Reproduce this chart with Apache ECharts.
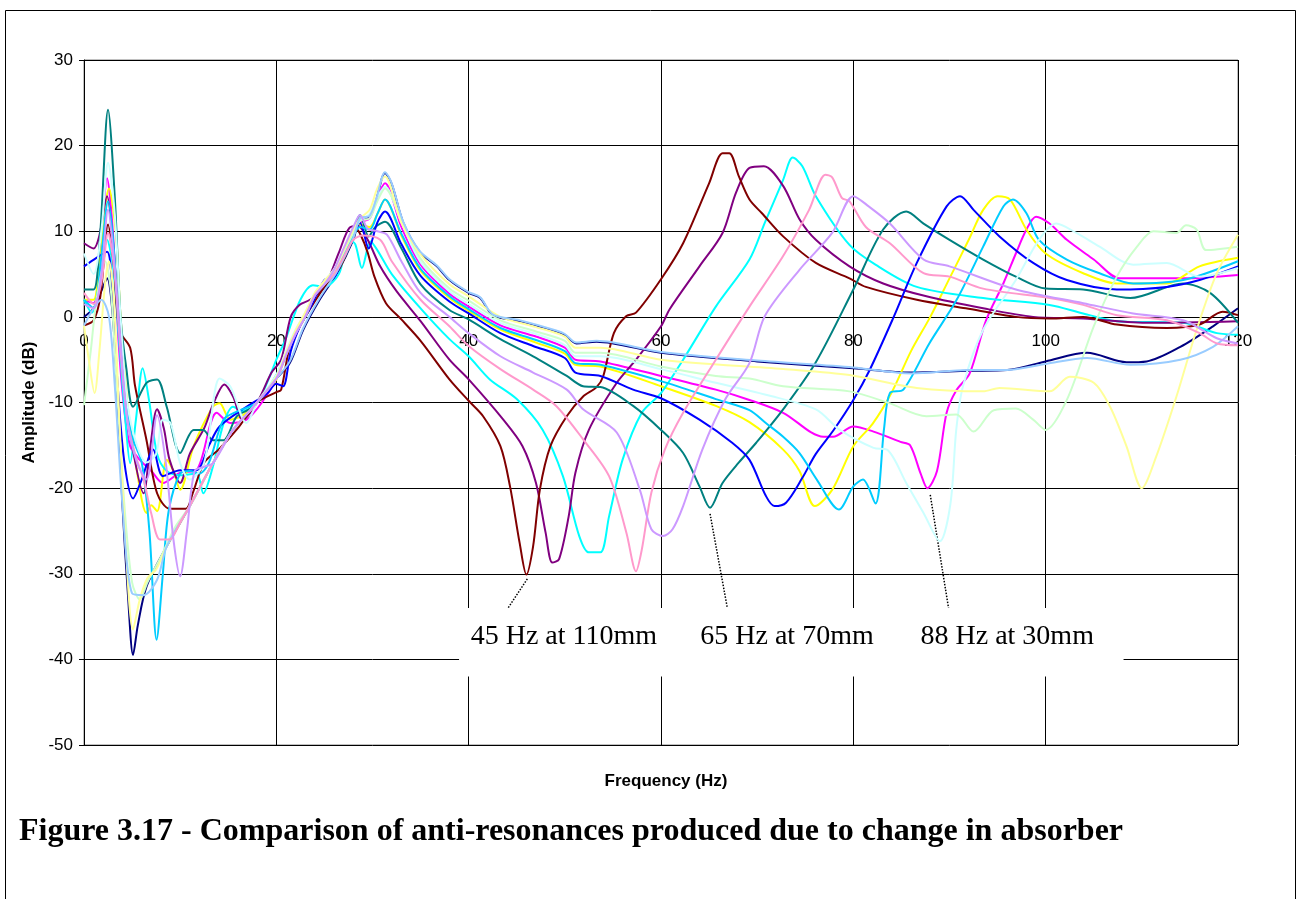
<!DOCTYPE html>
<html>
<head>
<meta charset="utf-8">
<title>Figure 3.17</title>
<script src="https://cdn.jsdelivr.net/npm/echarts/dist/echarts.min.js"></script>
<style>
  html, body { margin: 0; padding: 0; background: #fff; }
  #chart { width: 1296px; height: 899px; }
</style>
</head>
<body>
<div id="chart"></div>
<script>
// frequency (Hz) / amplitude (dB) pairs, one array per absorber position
var navy = [[0,0],[1,1],[1.8,3],[2.4,4.5],[3,0],[3.5,-10],[4,-22],[4.6,-33],[5.1,-39.5],[5.6,-36],[6.5,-31.5],[8.6,-26.8],[11,-22.1],[13.4,-17.1],[15.5,-13.2],[17.6,-10.5],[20,-7.2],[21.4,-5.4],[22.8,-1.5],[24.5,2],[26.3,5.1],[28,9],[28.7,11.5],[29.7,11.7],[30.4,13.7],[31.3,16.8],[32,15.5],[33.2,11],[34.9,7.6],[36.7,5.9],[38,4.3],[40,2.8],[41.2,2.2],[42.5,0.2],[45.3,-0.5],[49.1,-1.7],[50,-2.1],[51.2,-3.1],[53.3,-2.9],[60,-4.2],[70,-5.2],[80,-6],[86,-6.5],[92,-6.3],[96,-6.2],[100,-5.2],[104.3,-4.2],[108.4,-5.3],[110.5,-5.2],[114,-3.5],[117.4,-1.1],[120,1.0]];
var magenta = [[0,2],[1,1.6],[1.7,7],[2.4,16.2],[3,10],[3.6,-3],[4.2,-11],[4.8,-15.1],[5.8,-16.7],[7,-18],[8.2,-19.4],[10,-18.2],[11.7,-17.9],[13.8,-11.2],[15.2,-12.4],[16.9,-12],[18.5,-10],[20,-7.2],[21,-4.3],[22,-1.8],[23,0.2],[24,2.6],[25,4],[26,5.3],[27,7.5],[28,9.8],[28.7,11],[29.7,11.5],[30.5,14],[31.3,15.6],[33,10.5],[35,6.1],[38,2.7],[40,1.2],[43.3,-1],[47,-2.3],[50,-3.6],[51.1,-5],[53.7,-5.2],[60,-6.9],[65.7,-8.5],[69.2,-9.7],[72.7,-11.2],[76.9,-14],[77.9,-14],[80,-12.8],[82.1,-13.4],[84.9,-14.6],[85.9,-15],[87,-18.3],[87.7,-20],[88.7,-18],[89.7,-11.2],[90.7,-8.6],[92.1,-6.6],[93.8,-0.4],[95.6,3.9],[96.9,7.4],[98,10.2],[99,11.7],[100.4,10.9],[102.2,9],[105,6.7],[107.7,4.5],[110.8,4.5],[114.3,4.5],[120,4.9]];
var yellow = [[0,2],[1,2],[1.7,8],[2.6,15],[3.3,10],[3.8,0],[4.5,-10],[5.5,-18],[6.5,-22.9],[7,-22],[7.6,-22.7],[8.6,-16.7],[9.3,-18],[10,-20.2],[11.4,-15.1],[13.4,-10.5],[14.1,-10.1],[15.2,-12],[16.5,-11.5],[18,-10],[20,-7.3],[21,-4.5],[22,-2],[23,0],[24,2.5],[25,3.8],[26,5],[27,7],[28,9.5],[28.7,10.8],[29.7,10.5],[30.5,12],[31.3,13.7],[33,9.5],[35,5.4],[38,2.2],[40,0.7],[43.3,-1.5],[47,-3],[50,-4.3],[51.1,-5.6],[53.7,-5.8],[60,-8.1],[65.7,-10.4],[69.2,-12.3],[72.7,-15.5],[74.4,-18],[76,-22.1],[77.8,-20.2],[80,-15.1],[82,-12.5],[84,-8.8],[86,-4],[88,0],[90,4.5],[92,9],[93.5,12.5],[95,14.1],[96.3,13.7],[98,10.2],[100,7.4],[103.9,5.1],[107.4,3.9],[112.6,3.9],[116,5.9],[120,6.9]];
var cyan = [[0,2],[0.8,0.5],[1.6,4],[2.4,9],[3,6],[3.6,-2],[4.3,-12],[4.8,-17.1],[5.4,-12],[6.1,-6],[6.8,-10],[7.6,-16],[8.6,-18],[10,-18.5],[11.7,-18.3],[12.4,-20.6],[13.4,-17.5],[14.5,-12.5],[15.5,-10.5],[16.5,-11],[18,-10],[19.3,-7],[20,-5],[21,-2.5],[22.5,2],[23.8,3.7],[25,3.5],[26.5,5],[27.6,9],[28.2,8.5],[28.9,5.7],[29.8,8.8],[30.5,7.8],[32,5],[35,1],[38,-2.6],[40,-4.6],[42.2,-7.3],[45,-9.6],[47.7,-13.2],[49.8,-18.6],[51.5,-25.6],[52.5,-27.5],[53.7,-27.5],[54.6,-23.3],[56,-16.7],[58,-11.2],[60,-8.9],[62.3,-5],[65.7,1.2],[69.2,6.7],[70.8,11],[72.7,16],[73.7,18.6],[74.7,17.6],[76.1,14.1],[79.6,8.4],[82.3,6.1],[86.6,3.5],[93.5,2.2],[100.4,1.4],[103.9,0.4],[107.4,-0.5],[114.3,-0.7],[117.8,-1.9],[120,-2.1]];
var purple = [[0,8.6],[1,8],[1.6,9.5],[2.4,14.1],[3,9],[3.6,0],[4.2,-8],[5,-15],[6.2,-20.6],[6.8,-16],[7.6,-10.8],[8.3,-13],[8.9,-16.7],[10,-19.4],[11,-16],[12.5,-13],[13.5,-10],[14.6,-7.9],[15.5,-9.3],[16.5,-12],[18,-10],[19.5,-6.5],[20.5,-5],[21.5,0],[22.4,1.4],[23.5,2],[25,3.5],[26.5,7.5],[27.6,10.4],[28.5,10.6],[29.5,9],[30.8,5.9],[32.5,3],[35,-0.5],[38,-5],[40,-7.3],[43.6,-12],[45.6,-15.1],[47,-19.4],[48,-25.2],[48.7,-28.7],[49.4,-28.3],[50.4,-23.3],[51.1,-18.2],[52.5,-13.2],[55.4,-7.7],[57.4,-5],[60,-1.1],[60.9,0.9],[64,5.9],[66.4,9.8],[67.8,14.5],[69.2,17.4],[70.7,17.6],[72.7,15.3],[74.4,11.4],[76.1,9.0],[79.6,5.9],[83.1,3.9],[87.6,2.4],[93.5,1.0],[98.7,0],[103.9,-0.2],[110.8,-0.7],[120,-0.5]];
var maroon = [[0,-1],[1,-0.4],[1.7,2.4],[2.5,10.8],[3.1,6],[3.7,-1.6],[4.8,-3.6],[5.3,-8],[6.5,-14.4],[7.6,-20.6],[8.9,-22.4],[10.6,-22.4],[11.3,-20.6],[12.5,-17],[14,-15.5],[16,-13],[18,-10],[20,-8.8],[20.5,-8.5],[21.5,-3],[23,0],[25,3.5],[26.5,5.5],[27.5,8],[28.3,10.3],[28.8,9.5],[29.5,7.5],[30.2,4.7],[31.4,1.6],[33,-0.3],[35,-2.8],[38,-7.3],[40,-9.8],[41.5,-11.6],[43.3,-15.1],[44.3,-19.8],[45.3,-26.4],[46,-30.1],[46.7,-26.8],[47.4,-20.2],[48.5,-15.1],[50.2,-11.6],[51.9,-9.3],[53.3,-8.2],[54,-6.9],[55.1,-1.9],[56.4,0.1],[57.4,0.5],[60,4.4],[62.3,8.6],[65,15.6],[66.4,19.1],[67.1,19.1],[68.1,16.4],[69.2,13.7],[70.5,12.1],[72.7,9.4],[76.1,6.3],[79.6,4.5],[81.3,3.5],[86.6,2.0],[91.7,1.0],[96.9,0],[100.4,-0.2],[103.9,0],[107.4,-0.9],[112.6,-1.3],[116,-0.9],[118.4,0.6],[120,0.2]];
var teal = [[0,3.2],[1,3.2],[1.7,10],[2.5,24.2],[3.2,14],[3.8,0],[4.4,-6],[5.1,-10.5],[6.5,-7.7],[7.6,-7.3],[8.6,-10.5],[10,-15.9],[11.4,-13.2],[12.4,-13.2],[13.4,-14.4],[14.5,-14.4],[15.9,-11.6],[17.6,-10.5],[20,-7],[21,-4.5],[22,-2],[23,0],[24,2.5],[25,3.8],[26,5],[27,7.5],[28,10],[28.7,11.9],[29.6,9.4],[30.3,10.5],[31.3,11.1],[33,8],[35,3.8],[38,0.8],[40,-0.3],[43.3,-2.6],[46.7,-4.6],[50.2,-6.9],[51.9,-8.1],[53.7,-8.2],[57.1,-10.4],[60,-13.2],[62.3,-15.9],[64,-19.8],[65.1,-22.3],[66.4,-19.4],[68.1,-17],[69.9,-14.7],[72.7,-10.8],[76.1,-5.3],[80,3.2],[83.1,10.2],[85.5,12.3],[87.3,10.9],[90,9.0],[93.5,6.7],[96.9,4.7],[100,3.3],[103.9,3.2],[108.8,2.2],[114.3,3.9],[117.1,2.8],[120,-0.7]];
var blue = [[0,5.9],[1.3,6.9],[2.4,7.6],[3,2],[3.5,-8],[4.2,-17],[5.1,-21.2],[6,-19],[7.2,-15.5],[8.2,-18.6],[10,-17.9],[11.7,-17.9],[13,-15],[14.1,-12.8],[16.9,-10.5],[19,-9],[20,-7.8],[20.7,-8.1],[21.5,-4],[22.5,-1],[23.5,1],[25,4.3],[26,4.6],[27,7],[28,9.5],[28.7,11],[29.6,8],[30.5,11],[31.3,12.3],[33,8.5],[35,4.8],[38,1.8],[40,0.4],[43.3,-1.9],[46.7,-3.4],[50,-4.8],[51.1,-6.5],[53.7,-6.9],[57.1,-8.5],[60,-9.5],[64,-12],[67.4,-14.7],[69.2,-16.7],[70.9,-20.9],[71.8,-22.1],[73,-21.7],[74.7,-18.8],[76.1,-16],[77.9,-13.3],[80,-9.7],[81.7,-6.2],[84.2,0],[86.6,6.3],[89.7,12.9],[91.1,14.1],[92.5,12.5],[95.2,9.4],[98.7,6.3],[102.2,4.3],[107.4,3.2],[112.6,3.5],[116,4.3],[120,5.9]];
var skyBlue = [[0,2],[1,1],[1.7,6],[2.5,13.5],[3.1,8],[3.7,-3],[4.3,-9],[5,-14],[6,-17],[6.8,-25],[7.55,-37.7],[8.2,-30],[8.8,-22.7],[10,-18.3],[11,-18],[12,-18.3],[13,-17],[14.5,-12],[16,-11],[18,-10],[20,-6.8],[21,-4.2],[22,-1.8],[23,0],[24,2.5],[25,3.8],[26,5],[27,7],[28,9.5],[28.7,10.5],[29.7,10.2],[30.5,12],[31.3,13.7],[33,9.7],[35,5.6],[38,2.4],[40,0.9],[43.3,-1.3],[47,-2.7],[50,-4],[51.1,-5.4],[53.7,-5.6],[60,-7.5],[65.7,-9.6],[69.2,-10.9],[70.9,-12.4],[72.7,-14],[74.4,-15.9],[76.2,-19],[78.5,-22.5],[80,-19.8],[81,-19],[82.3,-21.8],[83.2,-13],[83.8,-8.9],[85.2,-8.5],[87.9,-3.1],[90.7,1.9],[93.5,8.2],[95.6,12.9],[96.6,13.7],[98,12.1],[99.3,9],[102.2,6.7],[105.6,5.1],[109.1,3.9],[114.3,4.3],[120,6.5]];
var ltTurquoise = [[0,7.4],[1,5],[1.8,10],[2.5,18],[3.2,12],[3.8,0],[4.5,-10],[5.5,-15],[6.5,-17],[7.5,-16],[8.2,-12],[9,-12.4],[10,-17.1],[11,-19],[12.5,-17],[14.1,-7.2],[15.2,-8.1],[16.9,-12.4],[18,-10],[20,-6.8],[21,-4],[22,-1.5],[23,0.5],[24,2.8],[25,4.2],[26,5.6],[27,7.8],[28,10],[28.7,11.3],[29.7,12],[30.5,14],[31.3,15.2],[33,11],[35,6.4],[38,3],[40,1.5],[43.3,-0.7],[47,-2],[50,-3.3],[51.1,-4.6],[53.7,-4.6],[60,-6.1],[65.7,-7.7],[70.9,-9.1],[76.1,-10.8],[78.6,-13.2],[82.1,-15.3],[83.5,-15.5],[85.5,-19.4],[87.3,-22.9],[89,-26.2],[90.1,-21.8],[90.7,-13.2],[91.4,-8.1],[93.5,-1.5],[96.9,4.3],[99.3,9],[101.1,10.9],[103.2,9.8],[105.6,8.2],[109.1,6.1],[112.6,6.3],[116,4.7],[120,5.7]];
var ltGreen = [[0,-10.3],[0.7,-4],[1.3,2],[2.2,6.5],[2.8,3],[3.4,-8],[4.2,-22],[5,-31],[5.8,-33],[6.6,-31],[8,-28],[9.5,-24.5],[11,-22.1],[13.4,-17.1],[15.5,-13.2],[17.6,-10.5],[20,-7],[21,-4.3],[22,-1.8],[23,0.3],[24,2.6],[25,4],[26,5.3],[27,7.5],[28,9.8],[28.7,11.2],[29.7,11.5],[30.5,13.5],[31.3,15],[33,11.5],[35,6.8],[38,3.3],[40,1.9],[43.3,-0.4],[47,-1.7],[50,-2.8],[51.1,-4.2],[53.7,-4.2],[60,-5.8],[65.7,-6.9],[69.2,-7.2],[72.7,-8.1],[79.6,-8.7],[83.8,-10.1],[87.6,-11.6],[90.7,-11.4],[92.5,-13.4],[94.6,-10.9],[96.9,-10.7],[98.7,-12],[100,-13.2],[102.2,-9.7],[105,-1.1],[107.4,4.7],[109.5,8.2],[111.2,10],[113.6,9.8],[114.6,10.7],[115.7,10.2],[116.7,7.8],[120,8.2]];
var ltYellow = [[0,-1],[0.5,-5],[1.1,-8.9],[1.6,-4],[2.2,4],[2.6,6.5],[3.1,2],[3.6,-10],[4.3,-26],[5.1,-36.5],[5.8,-33],[6.6,-30.5],[7.5,-29.5],[8.6,-26.8],[11,-22.1],[13.4,-17.1],[15.5,-13.2],[17.6,-10.5],[20,-7],[21,-4.2],[22,-1.6],[23,0.5],[24,2.8],[25,4.2],[26,5.5],[27,7.8],[28,10.2],[28.7,11.5],[29.7,12.5],[30.5,15],[31.3,16.4],[33,11],[35,7.3],[38,3.8],[40,2.4],[43.3,0],[47,-1.2],[50,-2.3],[51.1,-3.6],[53.7,-3.6],[60,-5],[72.7,-6.1],[79.6,-6.8],[86.6,-8.3],[93.5,-8.7],[95.2,-8.3],[100.4,-8.7],[102.5,-7],[105,-7.7],[106.7,-10.5],[108.4,-15.1],[110,-20],[111.5,-16.3],[113.6,-9.3],[115.7,-1.5],[117.8,5.1],[120,9.6]];
var paleBlue = [[0,-1],[1,1],[1.8,2],[2.6,0],[3.2,-8],[4,-22],[5,-32.3],[6.2,-32.5],[7.6,-30.7],[8.6,-26.8],[11,-22.1],[13.4,-17.1],[15.5,-13.2],[17.6,-10.5],[20,-7.2],[21.4,-5.2],[22.8,-1.3],[24.5,2.2],[26.3,5.3],[28,9.2],[28.7,11.5],[29.7,11.8],[30.4,13.8],[31.3,16.9],[32,15.6],[33.2,11.1],[34.9,7.7],[36.7,6],[38,4.4],[40,2.9],[41.2,2.3],[42.5,0.3],[45.3,-0.4],[49.1,-1.6],[50,-2],[51.2,-3],[53.3,-2.8],[60,-4.1],[70,-5.1],[80,-5.9],[86,-6.6],[92,-6.2],[96,-6.2],[100,-5.5],[104.3,-4.8],[108.8,-5.6],[114,-5],[117.4,-3.5],[120,-1.1]];
var rose = [[0,2.8],[1,1.5],[1.8,4],[2.5,9.8],[3.1,6],[3.8,-4],[4.5,-12],[5.3,-16],[6.2,-19],[7,-23],[7.9,-26],[8.9,-26],[10,-24],[11,-22.1],[13.4,-17.1],[15.5,-13.2],[17.6,-10.5],[20,-7.2],[21,-4.5],[22,-2],[23,0],[24,2.5],[25,3.8],[26,5],[27,7],[28,9],[29,9.5],[30.8,9],[32,6.5],[35,2],[38,-1.1],[40,-3.4],[43.3,-6.1],[46.7,-8.5],[49.1,-10.4],[51.9,-14.3],[54.6,-18.6],[56.4,-25.2],[57.4,-29.7],[58,-27.2],[59,-20.5],[60.4,-15.5],[62.3,-11.2],[65.7,-5],[69.2,1.2],[72.7,7.1],[75.4,12.5],[77.1,16.6],[77.8,16.3],[78.8,13.9],[79.6,13.5],[81.3,10.5],[83.8,8.6],[87.3,5.1],[90,4.7],[93.5,3.3],[100.4,2.2],[103.9,1.4],[107.4,0.2],[112.6,-0.4],[116,-1.9],[117.8,-3.1],[120,-3.3]];
var lavender = [[0,1.5],[1,1],[1.8,5],[2.5,12.5],[3.1,7],[3.6,0],[4.5,-12],[5.5,-17],[6.5,-19],[7.6,-11.5],[8.5,-17],[9.3,-26],[10,-30.3],[10.7,-25],[11.5,-18],[12.5,-17.5],[13.4,-17.1],[15.5,-13.2],[17.6,-10.5],[20,-7.2],[21,-4.5],[22,-2],[23,0],[24,2.5],[25,3.8],[26,5.5],[27,8],[28,10.5],[28.7,11.9],[29.5,10.3],[30.5,10],[31.5,9.6],[33,6.5],[35,2.8],[38,0],[40,-1.9],[43.3,-4.6],[46.7,-6.5],[50.2,-8.5],[51.9,-10.8],[55.4,-13.5],[57.8,-20.2],[59,-24.8],[60.2,-25.6],[61.2,-24.8],[62.3,-22.1],[64.3,-15.5],[66.7,-9.6],[69.2,-5.4],[70.8,0.1],[74.4,5.5],[77.8,9.8],[80,14.1],[81.6,12.9],[83.8,10.9],[87.3,6.7],[90,5.9],[96.9,3.2],[103.9,1.6],[109.1,0.4],[114.3,-0.4],[117.8,-2.5],[120,-3.1]];

// Excel default series order, first drawn at the bottom
var seriesData = [navy, magenta, yellow, cyan, purple, maroon, teal, blue, skyBlue, ltTurquoise, ltGreen, ltYellow, paleBlue, rose, lavender];
var seriesColors = ['#000080', '#FF00FF', '#FFFF00', '#00FFFF', '#800080', '#800000', '#008080', '#0000FF', '#00CCFF', '#CCFFFF', '#CCFFCC', '#FFFF99', '#99CCFF', '#FF99CC', '#CC99FF'];

// annotation texts and the anti-resonance dips they point to
var noteTexts = ['45 Hz at 110mm', '65 Hz at 70mm', '88 Hz at 30mm'];
var noteDips = [[46.1, -30.6], [65.1, -23.0], [88.0, -20.8]];
var noteFeet = [[44.1, -34], [66.9, -34], [89.9, -34]];
var noteCentres = [[49.9, -37.3], [73.1, -37.3], [96.0, -37.3]];

var chart = echarts.init(document.getElementById('chart'));

var series = seriesData.map(function (d, i) {
    return {
        type: 'line',
        data: d,
        smooth: 0.3,
        showSymbol: false,
        symbol: 'none',
        lineStyle: { color: seriesColors[i], width: 2 },
        itemStyle: { color: seriesColors[i] },
        z: 3 + i
    };
});

// white label box, dotted leaders and the three captions
series.push({
    type: 'line',
    data: [[60, -38]],
    showSymbol: false,
    symbol: 'none',
    lineStyle: { opacity: 0 },
    z: 30,
    markArea: {
        silent: true,
        itemStyle: { color: '#ffffff' },
        data: [[{ coord: [39, -34] }, { coord: [108.1, -42] }]]
    },
    markLine: {
        silent: true,
        symbol: ['none', 'none'],
        label: { show: false },
        lineStyle: { color: '#000', type: 'dotted', width: 1.5 },
        data: noteDips.map(function (p, i) {
            return [{ coord: p }, { coord: noteFeet[i] }];
        })
    },
    markPoint: {
        silent: true,
        symbol: 'circle',
        symbolSize: 1,
        itemStyle: { color: 'rgba(0,0,0,0)' },
        label: {
            show: true,
            position: 'inside',
            color: '#000',
            fontFamily: 'Liberation Serif',
            fontSize: 28,
            formatter: '{b}'
        },
        data: noteCentres.map(function (p, i) {
            return { name: noteTexts[i], coord: p };
        })
    }
});

var option = {
    animation: false,
    backgroundColor: '#ffffff',
    grid: {
        left: 84, right: 58, top: 60, bottom: 154,
        show: true, borderColor: '#808080', borderWidth: 1
    },
    xAxis: {
        type: 'value',
        min: 0, max: 120, interval: 20,
        position: 'bottom',
        offset: -428,   // sits on the 0 dB line like the original
        axisLine: { onZero: false, lineStyle: { color: '#000', width: 1 } },
        axisTick: { show: true, length: 5, lineStyle: { color: '#000' } },
        axisLabel: { color: '#000', fontSize: 17, fontFamily: 'Liberation Sans', margin: 16 },
        splitLine: { show: true, lineStyle: { color: '#000', width: 1 } }
    },
    yAxis: {
        type: 'value',
        min: -50, max: 30, interval: 10,
        name: 'Amplitude (dB)',
        nameLocation: 'middle',
        nameGap: 45,
        nameRotate: 90,
        nameTextStyle: { color: '#000', fontSize: 17, fontWeight: 'bold', fontFamily: 'Liberation Sans' },
        axisLine: { show: true, onZero: false, lineStyle: { color: '#000', width: 1 } },
        axisTick: { show: true, length: 5, lineStyle: { color: '#000' } },
        axisLabel: { color: '#000', fontSize: 17, fontFamily: 'Liberation Sans', margin: 11 },
        splitLine: { show: true, lineStyle: { color: '#000', width: 1 } }
    },
    title: [
        {
            text: 'Frequency (Hz)',
            left: 661, top: 768, textAlign: 'center',
            textStyle: { color: '#000', fontSize: 17, fontWeight: 'bold', fontFamily: 'Liberation Sans' }
        },
        {
            text: 'Figure 3.17 - Comparison of anti-resonances produced due to change in absorber',
            left: 14, top: 811,
            textStyle: { color: '#000', fontSize: 32, fontWeight: 'bold', fontFamily: 'Liberation Serif' }
        }
    ],
    graphic: [{
        type: 'rect',
        left: 3, top: 8,
        silent: true,
        shape: { width: 1290, height: 940 },
        style: { fill: 'none', stroke: '#000', lineWidth: 1 }
    }],
    series: series
};

chart.setOption(option);
</script>
</body>
</html>
